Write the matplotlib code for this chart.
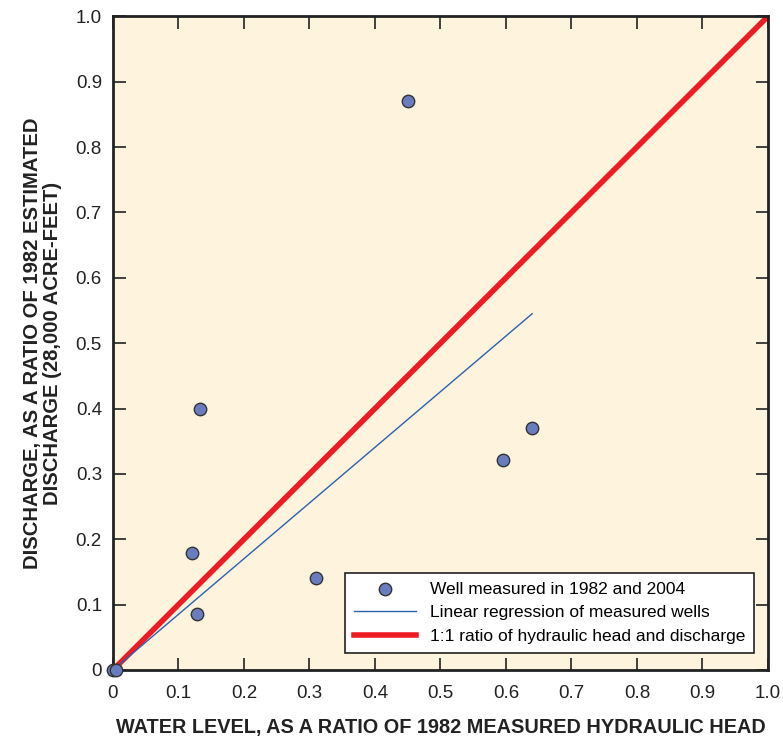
import matplotlib
matplotlib.use("Agg")
import matplotlib.pyplot as plt
import numpy as np

plt.rcParams['font.family'] = ['Liberation Sans Narrow', 'Liberation Sans', 'DejaVu Sans']

# well measurements (ratio of 1982 head, ratio of 1982 discharge)
water_level = [0.0, 0.005, 0.12, 0.128, 0.133, 0.31, 0.45, 0.595, 0.64]
discharge = [0.0, 0.0, 0.179, 0.086, 0.40, 0.141, 0.87, 0.321, 0.37]

# regression line end points
reg_x = [0.0, 0.64]
reg_y = [0.0, 0.545]

ticks = np.round(np.arange(0, 1.01, 0.1), 1)
tick_labels = ['0'] + ['%.1f' % t for t in ticks[1:]]

fig = plt.figure(figsize=(7.83, 7.40), dpi=100)
ax = fig.add_axes([0.1443, 0.0946, 0.8365, 0.8834])
ax.set_facecolor('#fef3dc')

ax.plot([0, 1], [0, 1], color='#ed1c24', lw=4, zorder=2,
        label='1:1 ratio of hydraulic head and discharge')
ax.plot(reg_x, reg_y, color='#2a62b0', lw=1, zorder=3,
        label='Linear regression of measured wells')
ax.scatter(water_level, discharge, s=80, c='#6a7cc0', edgecolors='#333333',
           linewidths=1, zorder=4, clip_on=False,
           label='Well measured in 1982 and 2004')

ax.set_xlim(0, 1)
ax.set_ylim(0, 1)
ax.set_xticks(ticks)
ax.set_yticks(ticks)
ax.set_xticklabels(tick_labels)
ax.set_yticklabels(tick_labels)
ax.tick_params(direction='in', length=9, width=1.2, labelsize=13.5,
               top=True, right=True, colors='#222222')
ax.tick_params(axis='x', pad=11)
ax.tick_params(axis='y', pad=8)
for sp in ax.spines.values():
    sp.set_linewidth(2)
    sp.set_color('#222222')

ax.set_xlabel('WATER LEVEL, AS A RATIO OF 1982 MEASURED HYDRAULIC HEAD',
              fontsize=14.3, fontweight='bold', color='#222222', labelpad=11)
ax.set_ylabel('DISCHARGE, AS A RATIO OF 1982 ESTIMATED\nDISCHARGE (28,000 ACRE-FEET)',
              fontsize=14.6, fontweight='bold', color='#222222', labelpad=10,
              linespacing=1.05)

handles, labels = ax.get_legend_handles_labels()
order = [2, 1, 0]
leg = ax.legend([handles[i] for i in order], [labels[i] for i in order],
                loc='lower right', bbox_to_anchor=(0.9786, 0.026), borderaxespad=0,
                fontsize=12.5, fancybox=False, framealpha=1, edgecolor='#222222',
                handlelength=3.6, handletextpad=0.8, borderpad=0.5,
                labelspacing=0.5)
leg.get_frame().set_linewidth(1.2)

fig.savefig('out.png', dpi=100)
